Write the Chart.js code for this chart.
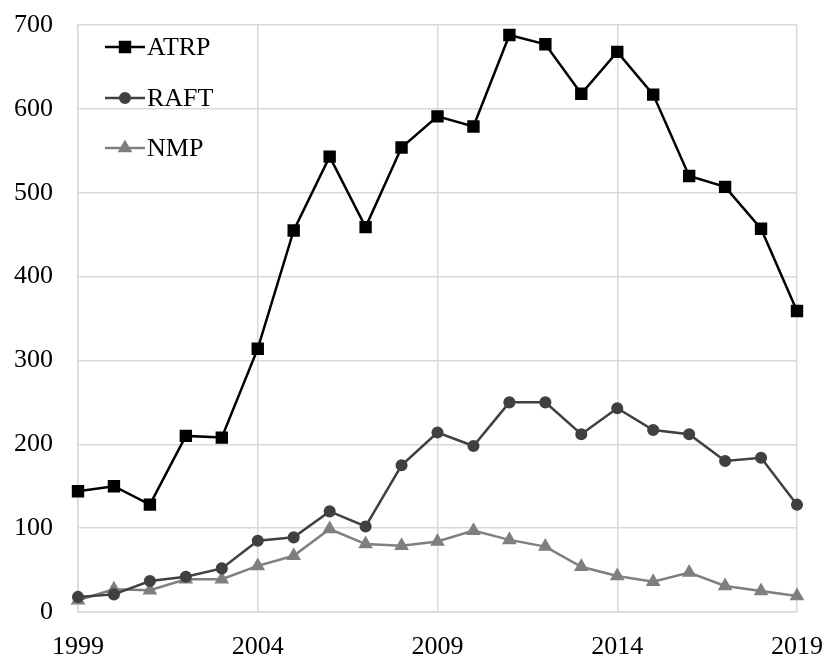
<!DOCTYPE html>
<html>
<head>
<meta charset="utf-8">
<script src="https://cdn.jsdelivr.net/npm/chart.js@4"></script>
<style>
  html, body { margin: 0; padding: 0; background: #fff; }
  #wrap { width: 827px; height: 656px; }
</style>
</head>
<body>
<div id="wrap"><canvas id="chart" width="827" height="656"></canvas></div>
<script>
// Data
const years = [];
for (let y = 1999; y <= 2019; y++) years.push(String(y));
const atrp = [144, 150, 128, 210, 208, 314, 455, 543, 459, 554, 591, 579, 688, 677, 618, 668, 617, 520, 507, 457, 359];
const raft = [18, 21, 37, 42, 52, 85, 89, 120, 102, 175, 214, 198, 250, 250, 212, 243, 217, 212, 180, 184, 128];
const nmp = [14, 27, 26, 39, 39, 55, 67, 99, 81, 79, 84, 97, 86, 78, 54, 43, 36, 47, 31, 25, 19];
const yTicks = [0, 100, 200, 300, 400, 500, 600, 700];

const FONT = { family: '"Liberation Serif", "Times New Roman", serif', size: 26 };
const GRID = '#d9d9d9';

// legend drawn inside the plot, line + marker like the original
const insideLegend = {
    id: 'insideLegend',
    afterDraw(chart) {
        const ctx = chart.ctx;
        const x0 = 105, x1 = 145;
        const rows = [47, 98, 148];
        chart.data.datasets.forEach((ds, i) => {
            const y = rows[i];
            ctx.save();
            ctx.strokeStyle = ds.borderColor;
            ctx.lineWidth = ds.borderWidth;
            ctx.beginPath();
            ctx.moveTo(x0, y);
            ctx.lineTo(x1, y);
            ctx.stroke();
            ctx.fillStyle = ds.pointBackgroundColor;
            ctx.strokeStyle = ds.pointBackgroundColor;
            Chart.helpers.drawPoint(ctx, {
                pointStyle: ds.pointStyle,
                radius: ds.pointRadius,
                borderWidth: 1,
                rotation: 0
            }, (x0 + x1) / 2, y);
            ctx.fillStyle = '#000';
            ctx.font = FONT.size + 'px ' + FONT.family;
            ctx.textBaseline = 'middle';
            ctx.textAlign = 'left';
            ctx.fillText(ds.label, x1 + 2, y + 1);
            ctx.restore();
        });
    }
};

new Chart(document.getElementById('chart'), {
    type: 'line',
    data: {
        labels: years,
        datasets: [
            {
                label: 'ATRP', data: atrp,
                borderColor: '#000', borderWidth: 2.5,
                pointStyle: 'rect', pointRadius: 7,
                pointBackgroundColor: '#000', pointBorderColor: '#000',
                tension: 0
            },
            {
                label: 'RAFT', data: raft,
                borderColor: '#404040', borderWidth: 2.5,
                pointStyle: 'circle', pointRadius: 4.8,
                pointBackgroundColor: '#404040', pointBorderColor: '#404040',
                tension: 0
            },
            {
                label: 'NMP', data: nmp,
                borderColor: '#7f7f7f', borderWidth: 2.5,
                pointStyle: 'triangle', pointRadius: 6,
                pointBackgroundColor: '#7f7f7f', pointBorderColor: '#7f7f7f',
                tension: 0
            }
        ]
    },
    options: {
        responsive: false,
        animation: false,
        layout: { padding: { top: 25, right: 30, bottom: 0, left: 0 } },
        plugins: {
            legend: { display: false },
            tooltip: { enabled: false }
        },
        scales: {
            x: {
                offset: false,
                grid: {
                    color: c => (c.index % 5 === 0 ? GRID : 'rgba(0,0,0,0)'),
                    lineWidth: 1.5,
                    drawTicks: false
                },
                border: { color: GRID, width: 1.5 },
                ticks: {
                    autoSkip: false,
                    maxRotation: 0,
                    padding: 20,
                    color: '#000',
                    font: FONT,
                    callback: function (v, i) { return i % 5 === 0 ? years[i] : ''; }
                },
                afterFit: s => { s.height = 44; s.paddingLeft = 0; s.paddingRight = 0; }
            },
            y: {
                min: 0, max: 700,
                afterBuildTicks: s => { s.ticks = yTicks.map(v => ({ value: v })); },
                grid: { color: GRID, lineWidth: 1.5, drawTicks: false },
                border: { color: GRID, width: 1.5 },
                ticks: { padding: 25, color: '#000', font: FONT },
                afterFit: s => { s.width = 78; s.paddingTop = 0; s.paddingBottom = 0; }
            }
        }
    },
    plugins: [insideLegend]
});
</script>
</body>
</html>
